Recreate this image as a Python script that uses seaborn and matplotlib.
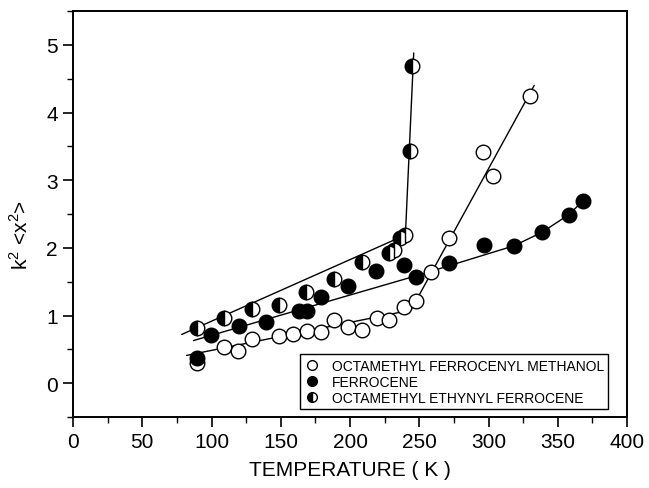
import numpy as np
import pandas as pd
import matplotlib
matplotlib.use("Agg")
import matplotlib.pyplot as plt
from matplotlib.lines import Line2D
from matplotlib.ticker import MultipleLocator
import seaborn as sns

# ---- data ----
methanol_T = [89.5, 109, 119, 129, 148.7, 158.8, 169, 179, 188.5, 198.6, 208.7, 219.5, 228, 239, 248, 258.5, 271.5, 296, 303, 330]
methanol_v = [0.30, 0.53, 0.48, 0.66, 0.69, 0.72, 0.77, 0.76, 0.93, 0.83, 0.79, 0.96, 0.94, 1.13, 1.21, 1.64, 2.15, 3.41, 3.06, 4.25]

ferrocene_T = [89.5, 99.6, 120, 139.4, 163, 169, 179, 198.6, 218.8, 239, 248, 271.5, 296.8, 318.4, 338.6, 358, 368]
ferrocene_v = [0.37, 0.71, 0.84, 0.91, 1.07, 1.07, 1.28, 1.44, 1.66, 1.75, 1.57, 1.78, 2.04, 2.03, 2.23, 2.49, 2.69]

ethynyl_T = [89.5, 109, 129, 148.7, 168.5, 188.5, 208.7, 228, 232, 236, 240, 243.5, 244.6]
ethynyl_v = [0.82, 0.96, 1.09, 1.16, 1.34, 1.54, 1.79, 1.93, 1.97, 2.15, 2.19, 3.43, 4.69]

# fitted guide lines (vertices)
methanol_fit_T = [82, 244, 333]
methanol_fit_v = [0.41, 1.08, 4.40]
ferrocene_fit_T = [87, 250, 318.4, 338.6, 358, 368]
ferrocene_fit_v = [0.63, 1.60, 2.03, 2.23, 2.49, 2.69]
ethynyl_fit_T = [78.5, 240, 246]
ethynyl_fit_v = [0.72, 2.19, 4.88]

legend_labels = ["OCTAMETHYL FERROCENYL METHANOL", "FERROCENE", "OCTAMETHYL ETHYNYL FERROCENE"]
x_ticks = [0, 50, 100, 150, 200, 250, 300, 350, 400]
y_ticks = [0, 1, 2, 3, 4, 5]

# ---- style ----
sns.set_style("ticks")
plt.rcParams["font.family"] = ["Liberation Sans", "DejaVu Sans"]
plt.rcParams["mathtext.fontset"] = "custom"
plt.rcParams["mathtext.rm"] = "Liberation Sans"

fig = plt.figure(figsize=(6.49, 4.89), dpi=100)
ax = fig.add_axes([73 / 649, 71 / 489, 554 / 649, 406 / 489])

lw = 1.0
for T, v in [(methanol_fit_T, methanol_fit_v), (ferrocene_fit_T, ferrocene_fit_v), (ethynyl_fit_T, ethynyl_fit_v)]:
    sns.lineplot(x=T, y=v, ax=ax, color="black", linewidth=lw, sort=False, estimator=None, zorder=2)

ms = 10.5
df_m = pd.DataFrame({"T": methanol_T, "v": methanol_v})
df_f = pd.DataFrame({"T": ferrocene_T, "v": ferrocene_v})
df_e = pd.DataFrame({"T": ethynyl_T, "v": ethynyl_v})

sns.lineplot(data=df_m, x="T", y="v", ax=ax, linestyle="", marker="o", markersize=ms,
             markerfacecolor="white", markeredgecolor="black", markeredgewidth=1.0,
             estimator=None, sort=False, zorder=3)
sns.lineplot(data=df_f, x="T", y="v", ax=ax, linestyle="", marker="o", markersize=ms,
             markerfacecolor="black", markeredgecolor="black", markeredgewidth=1.0,
             estimator=None, sort=False, zorder=4)
sns.lineplot(data=df_e, x="T", y="v", ax=ax, linestyle="", marker="o", markersize=ms,
             fillstyle="left", markerfacecolor="black", markerfacecoloralt="white",
             markeredgecolor="black", markeredgewidth=1.0,
             estimator=None, sort=False, zorder=5)

ax.set_xlim(0, 400)
ax.set_ylim(-0.5, 5.5)
ax.set_xticks(x_ticks)
ax.set_yticks(y_ticks)
ax.xaxis.set_minor_locator(MultipleLocator(25))
ax.yaxis.set_minor_locator(MultipleLocator(0.5))
ax.tick_params(axis="both", which="major", direction="out", length=7, width=1.2,
               labelsize=15, colors="black", pad=4)
ax.tick_params(axis="both", which="minor", direction="out", length=4, width=1.0, colors="black")
ax.tick_params(top=False, right=False, which="both")
for s in ax.spines.values():
    s.set_linewidth(1.4)
    s.set_color("black")

ax.set_xlabel("TEMPERATURE ( K )", fontsize=15, labelpad=6, color="black")
ax.set_ylabel(r"k$^2$ <x$^2$>", fontsize=15, color="black")
ax.yaxis.set_label_coords(-0.075, 0.45)

handles = [
    Line2D([], [], linestyle="", marker="o", markersize=7, markerfacecolor="white", markeredgecolor="black"),
    Line2D([], [], linestyle="", marker="o", markersize=7, markerfacecolor="black", markeredgecolor="black"),
    Line2D([], [], linestyle="", marker="o", markersize=7, fillstyle="left", markerfacecolor="black",
           markerfacecoloralt="white", markeredgecolor="black"),
]
leg = ax.legend(handles, legend_labels, loc="lower right", bbox_to_anchor=(0.966, 0.02),
                fontsize=10, frameon=True, fancybox=False, framealpha=1, edgecolor="black",
                handlelength=1.2, handletextpad=0.8, labelspacing=0.15, borderpad=0.3,
                borderaxespad=0)
leg.get_frame().set_linewidth(1.0)
for t in leg.get_texts():
    t.set_color("black")

fig.savefig("out.png", dpi=100)
